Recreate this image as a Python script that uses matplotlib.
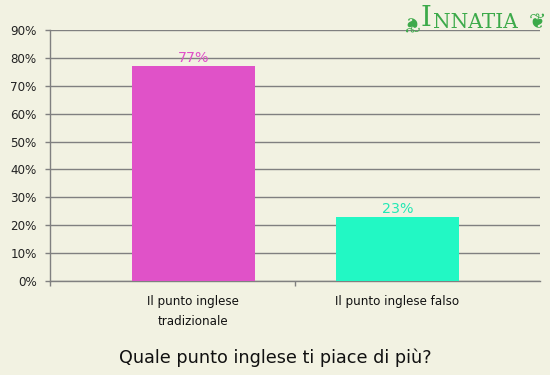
import matplotlib
matplotlib.use("Agg")
from matplotlib import pyplot as plt

categories = ["Il punto inglese\ntradizionale", "Il punto inglese falso"]
values = [77, 23]
bar_colors = ["#e052c8", "#22f8c4"]
label_colors = ["#e052c8", "#22e8b4"]
yticks = [0, 10, 20, 30, 40, 50, 60, 70, 80, 90]

bg = "#f2f2e2"
fig = plt.figure(figsize=(5.5, 3.75), dpi=100, facecolor=bg)
ax = fig.add_axes([50/550, 1 - 281/375, 490/550, 251/375], facecolor=bg)

xs = list(range(len(values)))
ax.bar(xs, values, width=0.603, color=bar_colors, zorder=3)
for x, v, c in zip(xs, values, label_colors):
    ax.text(x, v + 0.3, f"{v}%", ha="center", va="bottom", color=c, fontsize=10.3, zorder=4)

ax.set_xlim(-0.703, 1.699)
ax.set_ylim(0, 90)
ax.set_yticks(yticks)
ax.set_yticklabels([f"{t}%" for t in yticks], fontsize=8.6, color="#222222")
ax.yaxis.grid(True, color="#808080", linewidth=1, zorder=0)
ax.tick_params(axis="y", length=3.6, color="#808080", width=1, pad=6)

ax.set_xticks([-0.703, 0.5])
ax.set_xticklabels(["", ""])
ax.tick_params(axis="x", length=3.6, color="#808080", width=1)
for x, name in zip(xs, categories):
    ax.text(x, -5.0, name, ha="center", va="top", fontsize=8.6, color="#111111",
            linespacing=1.75, transform=ax.transData)

for s in ["top", "right"]:
    ax.spines[s].set_visible(False)
for s in ["left", "bottom"]:
    ax.spines[s].set_color("#808080")
    ax.spines[s].set_linewidth(1)

fig.text(0.5, 1 - 358/375, "Quale punto inglese ti piace di più?", ha="center", va="center",
         fontsize=12.7, color="#111111")

# logo
green = "#3caa4a"
fig.text(426/550, 1 - 19/375, "I", ha="center", va="center", fontsize=20,
         color=green, family="DejaVu Serif")
fig.text(433/550, 1 - 22/375, "NNATIA", ha="left", va="center", fontsize=14.5,
         color=green, family="DejaVu Serif")
fig.text(410/550, 1 - 22/375, "❦", ha="center", va="center", fontsize=15, color=green,
         rotation=180)
fig.text(537/550, 1 - 22/375, "❦", ha="center", va="center", fontsize=15, color=green)

fig.savefig("out.png", dpi=100, facecolor=bg)
